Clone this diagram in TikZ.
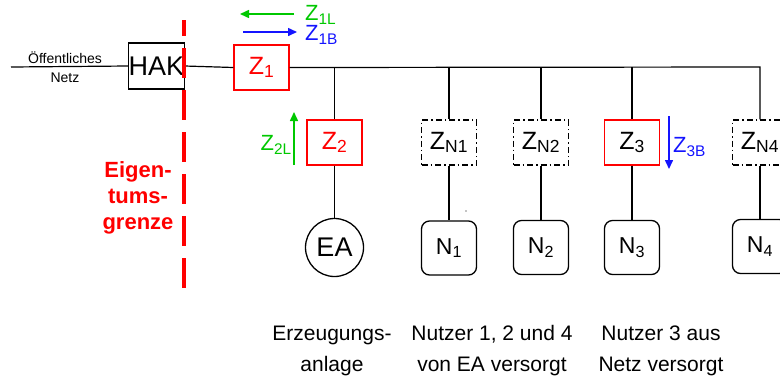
\documentclass[tikz,border=0pt]{standalone}
\usepackage{fontspec}
\setmainfont{Liberation Sans}
\usetikzlibrary{arrows.meta}
\definecolor{zred}{RGB}{255,0,0}
\definecolor{zgreen}{RGB}{0,200,0}
\definecolor{zblue}{RGB}{20,20,255}
\begin{document}
\begin{tikzpicture}[x=1pt,y=-1pt,
  wire/.style={draw=black,line width=1.2pt},
  zbox/.style={draw=zred,line width=1.3pt,minimum width=55pt,minimum height=45pt,inner sep=0pt,text=zred,font=\fontsize{25}{28}\selectfont},
  zdash/.style={draw=black,line width=1.2pt,dash pattern=on 6pt off 3pt on 1.5pt off 3pt,minimum width=55pt,minimum height=45pt,inner sep=0pt,font=\fontsize{25}{28}\selectfont},
  nbox/.style={draw=black,line width=1.3pt,rounded corners=8pt,minimum width=55pt,minimum height=54pt,inner sep=0pt,font=\fontsize{23}{26}\selectfont},
  flowarrow/.style={line width=1.5pt,-{Triangle[length=9pt,width=8pt]}},
  lbl/.style={inner sep=0pt,font=\fontsize{22}{25}\selectfont},
  caption/.style={inner sep=0pt,align=center,font=\fontsize{21}{31}\selectfont}]
\useasboundingbox (0,0) rectangle (780,376);
% boxes
\node[draw=black,line width=1.3pt,minimum width=55pt,minimum height=46pt,inner sep=0pt,font=\fontsize{27}{30}\selectfont] (hak) at (156.5,66) {HAK};
\node[zbox] (z1) at (261.5,67.5) {Z\textsubscript{1}};
\node[zbox] (z2) at (334.5,142.5) {Z\textsubscript{2}};
\node[zdash] (zn1) at (449,142.5) {Z\textsubscript{N1}};
\node[zdash] (zn2) at (541,142.5) {Z\textsubscript{N2}};
\node[zbox,text=black] (z3) at (632,142.5) {Z\textsubscript{3}};
\node[zdash] (zn4) at (760,142.5) {Z\textsubscript{N4}};
\node[circle,draw=black,line width=1.3pt,minimum size=58pt,inner sep=0pt,font=\fontsize{27}{30}\selectfont] (ea) at (334.5,247.5) {EA};
\node[nbox] (n1) at (449,248) {N\textsubscript{1}};
\node[nbox] (n2) at (541,247.5) {N\textsubscript{2}};
\node[nbox] (n3) at (632,247.5) {N\textsubscript{3}};
\node[nbox] (n4) at (760,246.5) {N\textsubscript{4}};
% bus
\coordinate (netz) at (11,67);
\coordinate (b2) at (334.5,67);
\coordinate (bn1) at (449,67);
\coordinate (bn2) at (541,67);
\coordinate (b3) at (632,67);
\coordinate (corner) at (760,67);
\draw[wire] (netz) -- (hak.west);
\draw[wire] (hak.east) -- (z1.west);
\draw[wire] (z1.east) -- (corner) -- (zn4.north);
\draw[wire] (b2) -- (z2.north);
\draw[wire] (bn1) -- (zn1.north);
\draw[wire] (bn2) -- (zn2.north);
\draw[wire] (b3) -- (z3.north);
\draw[wire] (z2.south) -- (ea.north);
\draw[wire] (zn1.south) -- (n1.north);
\draw[wire] (zn2.south) -- (n2.north);
\draw[wire] (z3.south) -- (n3.north);
\draw[wire] (zn4.south) -- (n4.north);
% stray dot
\fill (466,211) circle (0.7);
% Öffentliches Netz
\node[inner sep=0pt,align=center,font=\fontsize{14}{19}\selectfont] (oeff) at (65,67) {Öffentliches\\Netz};
% property boundary
\coordinate (gtop) at (184,20);
\coordinate (gbot) at (184,290);
\draw[zred,line width=4pt,dash pattern=on 30pt off 12pt,dash phase=14pt] (gtop) -- (gbot);
\node[inner sep=0pt,align=center,text=zred,font=\fontsize{22}{26}\bfseries\selectfont] (eig) at (138,198) {Eigen-\\tums-\\grenze};
% flow arrows
\coordinate (a1s) at (294,14);
\coordinate (a1e) at (240,14);
\coordinate (b1s) at (243,32);
\coordinate (b1e) at (297,32);
\draw[zgreen,flowarrow] (a1s) -- (a1e);
\draw[zblue,flowarrow] (b1s) -- (b1e);
\node[lbl,text=zgreen,anchor=west] (z1l) at (305,15) {Z\textsubscript{1L}};
\node[lbl,text=zblue,anchor=west] (z1b) at (305,35) {Z\textsubscript{1B}};
\coordinate (a2s) at (294,165);
\coordinate (a2e) at (294,112);
\draw[zgreen,flowarrow] (a2s) -- (a2e);
\node[lbl,text=zgreen,anchor=east] (z2l) at (292,145) {Z\textsubscript{2L}};
\coordinate (a3s) at (669,116);
\coordinate (a3e) at (669,169);
\draw[zblue,flowarrow] (a3s) -- (a3e);
\node[lbl,text=zblue,anchor=west] (z3b) at (673,147) {Z\textsubscript{3B}};
% captions
\node[caption] (c1) at (332,351) {Erzeugungs-\\anlage};
\node[caption] (c2) at (492,351) {Nutzer 1, 2 und 4\\von EA versorgt};
\node[caption] (c3) at (661,351) {Nutzer 3 aus\\Netz versorgt};
\end{tikzpicture}
\end{document}
